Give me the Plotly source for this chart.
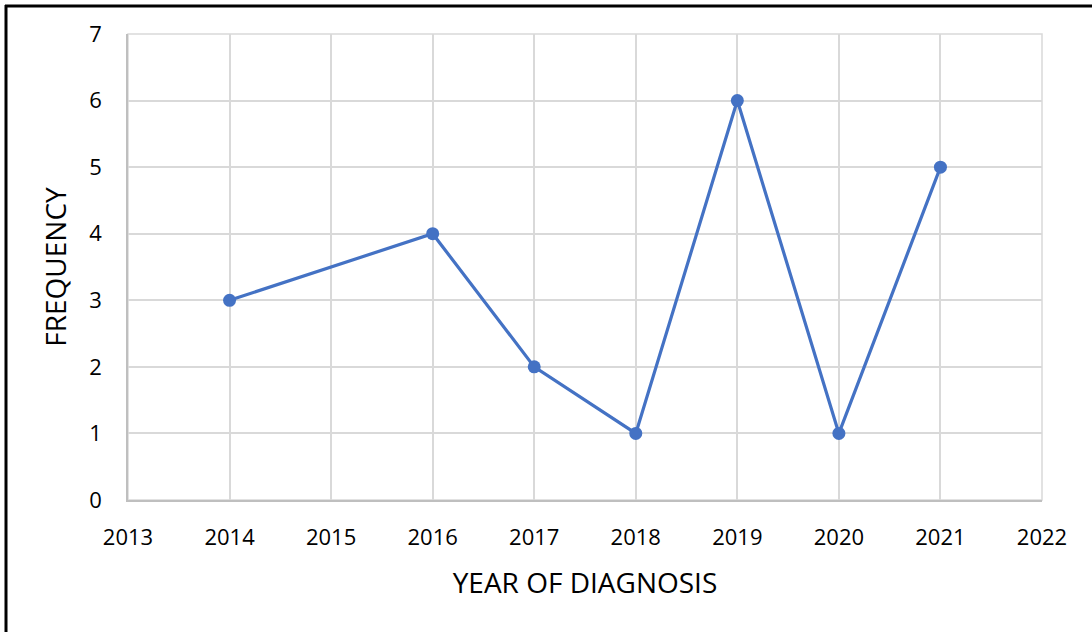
import plotly.graph_objects as go

years = [2014, 2016, 2017, 2018, 2019, 2020, 2021]
frequency = [3, 4, 2, 1, 6, 1, 5]
x_ticks = list(range(2013, 2023))
y_ticks = list(range(0, 8))

W, H = 1092, 632
L, R, T, B = 128, 1042, 34, 500
pw, ph = R - L, B - T

def px_x(x):
    return (x - L) / pw

def px_y(y):
    return (B - y) / ph

FONT = "Open Sans"
TICK = 22
TITLE = 28

fig = go.Figure()
fig.add_trace(go.Scatter(
    x=years, y=frequency, mode="lines+markers",
    line=dict(color="#4472C4", width=3.2),
    marker=dict(color="#4472C4", size=13),
    showlegend=False,
))

fig.update_layout(
    width=W, height=H,
    margin=dict(l=L, r=W - R, t=T, b=H - B),
    paper_bgcolor="white", plot_bgcolor="white",
    font=dict(family=FONT, color="#000000", size=TICK),
    xaxis=dict(
        range=[2013, 2022], tickvals=x_ticks, ticktext=[str(v) for v in x_ticks],
        showgrid=True, gridcolor="#d9d9d9", gridwidth=1.5,
        showline=True, linecolor="#bfbfbf", linewidth=1.5, mirror=False,
        zeroline=False, ticklabelstandoff=17,
        tickfont=dict(size=TICK, family=FONT),
        title=dict(text="YEAR OF DIAGNOSIS", font=dict(size=TITLE, family=FONT), standoff=23),
    ),
    yaxis=dict(
        range=[0, 7], tickvals=y_ticks,
        showgrid=True, gridcolor="#d9d9d9", gridwidth=1.5,
        showline=True, linecolor="#bfbfbf", linewidth=1.5,
        zeroline=False, ticklabelstandoff=20,
        tickfont=dict(size=TICK, family=FONT),
        title=dict(text="FREQUENCY", font=dict(size=TITLE, family=FONT), standoff=14),
    ),
    shapes=[
        dict(type="rect", xref="paper", yref="paper",
             x0=px_x(L), x1=px_x(R), y0=px_y(B), y1=px_y(T),
             line=dict(color="#d9d9d9", width=1.5), layer="below"),
        dict(type="line", xref="paper", yref="paper",
             x0=px_x(6), x1=px_x(6), y0=px_y(H + 5), y1=px_y(5),
             line=dict(color="#000000", width=3)),
        dict(type="line", xref="paper", yref="paper",
             x0=px_x(5), x1=px_x(W + 5), y0=px_y(6), y1=px_y(6),
             line=dict(color="#000000", width=3)),
    ],
)

fig.write_html(
    "out.html",
    config={"displayModeBar": False},
    post_script="document.body.style.margin='0';document.body.style.overflow='hidden';",
)
